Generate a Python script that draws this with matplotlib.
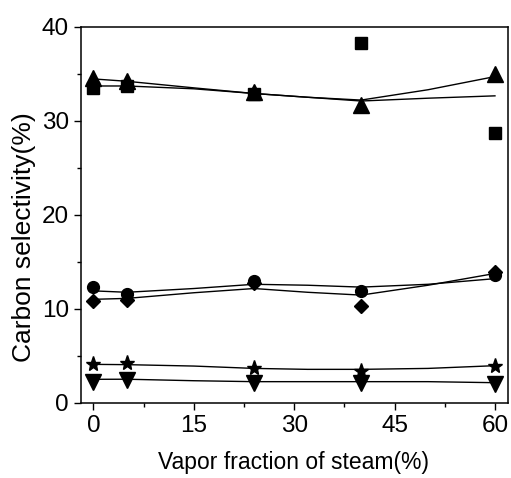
import matplotlib
matplotlib.use('Agg')
import matplotlib.pyplot as plt
from matplotlib.ticker import MultipleLocator

plt.rcParams['font.family'] = ['Liberation Sans', 'DejaVu Sans']

# measured points
x = [0, 5, 24, 40, 60]
square = [33.5, 33.7, 32.8, 38.3, 28.7]
tri_up = [34.6, 34.2, 33.1, 31.7, 35.0]
circle = [12.3, 11.6, 13.0, 11.9, 13.6]
diamond = [10.8, 10.9, 12.7, 10.3, 13.9]
star = [4.1, 4.2, 3.65, 3.4, 3.9]
tri_down = [2.25, 2.4, 2.05, 2.05, 2.0]

# fitted curves
xc = [0, 5, 15, 24, 32, 40, 50, 60]
fit_square = [33.7, 33.7, 33.4, 32.9, 32.5, 32.1, 32.4, 32.65]
fit_tri_up = [34.45, 34.2, 33.5, 32.9, 32.5, 32.2, 33.3, 34.7]
fit_circle = [11.9, 11.75, 12.15, 12.6, 12.5, 12.3, 12.6, 13.2]
fit_diamond = [11.0, 11.1, 11.7, 12.15, 11.75, 11.45, 12.5, 13.75]
fit_star = [4.08, 4.05, 3.9, 3.65, 3.55, 3.55, 3.65, 3.94]
fit_tri_down = [2.49, 2.5, 2.34, 2.24, 2.24, 2.24, 2.24, 2.13]

fig = plt.figure(figsize=(5.11, 4.78), dpi=100)
ax = fig.add_axes([0.158, 0.1575, 0.8355, 0.7865])

for fy in [fit_square, fit_tri_up, fit_circle, fit_diamond, fit_star, fit_tri_down]:
    ax.plot(xc, fy, color='black', lw=1.0, zorder=2)

ax.plot(x, square, 's', color='black', ms=8, zorder=3)
ax.plot(x, tri_up, '^', color='black', ms=11, zorder=3)
ax.plot(x, circle, 'o', color='black', ms=8.5, zorder=3)
ax.plot(x, diamond, 'D', color='black', ms=7.5, zorder=3)
ax.plot(x, star, '*', color='black', ms=11, zorder=3)
ax.plot(x, tri_down, 'v', color='black', ms=11, zorder=3)

ax.set_xlim(-1.9, 61.9)
ax.set_ylim(0, 40)
ax.xaxis.set_major_locator(MultipleLocator(15))
ax.xaxis.set_minor_locator(MultipleLocator(7.5))
ax.yaxis.set_major_locator(MultipleLocator(10))
ax.yaxis.set_minor_locator(MultipleLocator(5))
ax.tick_params(which='major', direction='out', length=5, width=1, labelsize=17.5, pad=3.5)
ax.tick_params(which='minor', direction='out', length=3, width=1)
for s in ax.spines.values():
    s.set_linewidth(1.1)

ax.set_xlabel('Vapor fraction of steam(%)', fontsize=16.5)
ax.set_ylabel('Carbon selectivity(%)', fontsize=19)
ax.xaxis.set_label_coords(0.4985, -0.128)
ax.yaxis.set_label_coords(-0.105, 0.4407)

fig.savefig('out.png', dpi=100)
